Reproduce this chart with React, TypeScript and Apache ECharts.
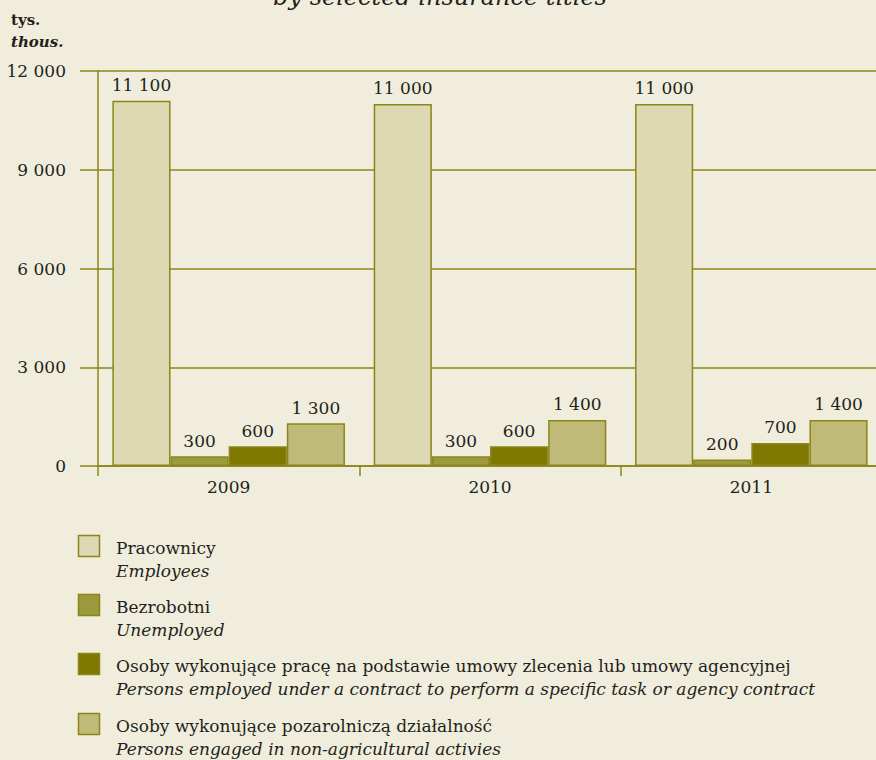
import React, { useEffect, useRef } from "react";
import * as echarts from "echarts";

const years = ["2009", "2010", "2011"];
const seriesNamesPl = [
  "Pracownicy",
  "Bezrobotni",
  "Osoby wykonujące pracę na podstawie umowy zlecenia lub umowy agencyjnej",
  "Osoby wykonujące pozarolniczą działalność",
];
const seriesNamesEn = [
  "Employees",
  "Unemployed",
  "Persons employed under a contract to perform a specific task or agency contract",
  "Persons engaged in non-agricultural activies",
];
const employees = [11100, 11000, 11000];
const unemployed = [300, 300, 200];
const contractWorkers = [600, 600, 700];
const selfEmployed = [1300, 1400, 1400];
const yTicks = [0, 3000, 6000, 9000, 12000];

const colors = ["#ddd9b3", "#9d9a3e", "#7f7800", "#bfba77"];
const olive = "#8c851a";
const bg = "#f0eddc";
const textColor = "#231f20";
const FONT = "DejaVu Serif";

const fmt = (v: number) => String(v).replace(/\B(?=(\d{3})+(?!\d))/g, " ");

export default function App() {
  const ref = useRef<HTMLDivElement>(null);
  useEffect(() => {
    if (!ref.current) return;
    const chart = echarts.init(ref.current, null, { renderer: "svg" });
    const allData = [employees, unemployed, contractWorkers, selfEmployed];

    const legendGraphics: any[] = [];
    const legendTop = [535, 594, 653, 713];
    seriesNamesPl.forEach((name, i) => {
      const top = legendTop[i];
      legendGraphics.push({
        type: "rect",
        shape: { x: 78.5, y: top + 0.5, width: 21, height: 21 },
        style: { fill: colors[i], stroke: olive, lineWidth: 1.5 },
      });
      legendGraphics.push({
        type: "text",
        x: 116,
        y: top + 13,
        style: {
          text: name,
          font: `17px "${FONT}"`,
          fill: textColor,
          verticalAlign: "middle",
        },
      });
      legendGraphics.push({
        type: "text",
        x: 116,
        y: top + 36,
        style: {
          text: seriesNamesEn[i],
          font: `italic 17px "${FONT}"`,
          fill: textColor,
          verticalAlign: "middle",
        },
      });
    });

    chart.setOption({
      animation: false,
      backgroundColor: bg,
      textStyle: { fontFamily: FONT },
      grid: {
        left: 98,
        right: -6,
        top: 71,
        bottom: 294,
        containLabel: false,
        outerBoundsMode: "none",
      },
      xAxis: {
        type: "category",
        data: years,
        boundaryGap: true,
        axisLine: { show: true, lineStyle: { color: olive, width: 1.5 } },
        axisTick: { show: true, length: 10, lineStyle: { color: olive, width: 1.5 } },
        axisLabel: { color: textColor, fontSize: 17, fontFamily: FONT, margin: 12 },
      },
      yAxis: {
        type: "value",
        min: 0,
        max: 12000,
        interval: 3000,
        axisLine: { show: true, lineStyle: { color: olive, width: 1.5 } },
        axisTick: { show: true, length: 18, lineStyle: { color: olive, width: 1.5 } },
        splitLine: { show: true, lineStyle: { color: olive, width: 1.5 } },
        axisLabel: {
          color: textColor,
          fontSize: 17,
          fontFamily: FONT,
          margin: 32,
          formatter: (v: number) => (yTicks.includes(v) ? fmt(v) : ""),
        },
      },
      series: allData.map((d, i) => ({
        type: "bar",
        name: seriesNamesPl[i],
        data: d,
        barGap: "0%",
        barCategoryGap: "11%",
        itemStyle: { color: colors[i], borderColor: olive, borderWidth: 1.5 },
        label: {
          show: true,
          position: "top",
          distance: 7,
          color: textColor,
          fontSize: 17,
          fontFamily: FONT,
          formatter: (p: any) => fmt(p.value),
        },
      })),
      graphic: [
        {
          type: "text",
          x: 440,
          y: -3,
          style: {
            text: "by selected insurance titles",
            font: `italic 24px "${FONT}"`,
            fill: textColor,
            align: "center",
            verticalAlign: "middle",
          },
        },
        {
          type: "text",
          x: 11,
          y: 20,
          style: { text: "tys.", font: `bold 15px "${FONT}"`, fill: textColor, verticalAlign: "middle" },
        },
        {
          type: "text",
          x: 11,
          y: 42,
          style: { text: "thous.", font: `italic bold 15px "${FONT}"`, fill: textColor, verticalAlign: "middle" },
        },
        ...legendGraphics,
      ],
    });
    return () => chart.dispose();
  }, []);
  return (
    <div
      ref={ref}
      style={{ position: "absolute", left: 0, top: 0, width: 876, height: 760 }}
    />
  );
}
